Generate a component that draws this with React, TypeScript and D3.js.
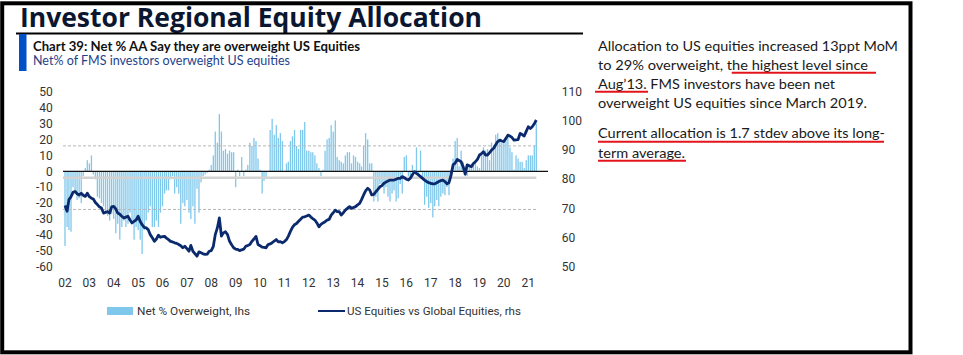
import React from 'react';
import * as d3 from 'd3';

// ---------- DATA ----------
const yearLabels = ['02','03','04','05','06','07','08','09','10','11','12','13','14','15','16','17','18','19','20','21'];
const START_YEAR = 2002;

// Net % of FMS investors overweight US equities (monthly, lhs)
const net2002 = [-47, -35, -37, -38, -10, -14, -18, -17, -20, -3, 2, 7];
const net2003 = [5, 10, -2, -5, -16, -17, -20, -22, -26, -28, -31, -27];
const net2004 = [-30, -39, -33, -43, -35, -31, -35, -33, -26, -31, -43, -35];
const net2005 = [-37, -43, -52, -37, -31, -26, -22, -35, -35, -31, -35, -26];
const net2006 = [-22, -14, -12, -12, -5, -3, -14, -10, -14, -33, -20, -22];
const net2007 = [-18, -26, -30, -22, -33, -11, -26, -7, -3, -2, -1, 1];
const net2008 = [4, 10, 25, 18, 36, 25, 13, 14, 11, 13, 12, 12];
const net2009 = [-10, 1, -3, 9, -3, 1, 4, 18, 16, 21, 19, 8];
const net2010 = [1, -14, -6, -4, 0, 26, 33, 23, 29, 21, 24, 19];
const net2011 = [0, 5, 6, 19, 22, 26, 16, 14, 26, 26, 31, 13];
const net2012 = [13, 12, 12, 10, 5, 2, -3, 1, 13, 20, 21, 29];
const net2013 = [25, 32, 9, 7, 6, 5, 10, 12, 12, 5, 10, 9];
const net2014 = [6, 5, 3, 16, 24, 20, 5, 5, -19, -16, -19, -8];
const net2015 = [-10, -14, -10, -16, -19, -14, -12, -19, -17, -8, -14, 9];
const net2016 = [10, -3, -4, 4, -1, 15, -3, 13, -4, -21, -16, -23];
const net2017 = [-20, -29, -22, -18, -22, -16, -14, -15, -10, -15, -5, 8];
const net2018 = [19, 21, 3, 13, 6, 3, -3, 3, 4, 5, 6, 3];
const net2019 = [2, 10, 15, 13, 14, 7, 18, 14, 23, 24, 20, 18];
const net2020 = [19, 19, 22, 15, 12, 1, 10, 8, 6, 6, 2, 7];
const net2021 = [10, 10, 10, 16, 30];

// US equities vs global equities (monthly, rhs)
const rel2002 = [71, 69, 73, 74, 75.5, 75.8, 75, 74.6, 75.2, 74.5, 74.1, 75.2];
const rel2003 = [74, 73.5, 73.2, 72, 71.3, 70.5, 70.1, 68.4, 68.6, 68.9, 68.4, 70.5];
const rel2004 = [70.7, 69.8, 68.4, 68, 67.3, 66.7, 67, 67.3, 66, 65, 65.6, 66];
const rel2005 = [67.3, 65.5, 64.4, 63.5, 63.3, 62.7, 61, 59.9, 58.7, 59.5, 60.8, 60.1];
const rel2006 = [60.3, 60.4, 59.8, 59.3, 58.7, 58.5, 58.2, 58, 57.6, 57.2, 56.5, 57];
const rel2007 = [56.2, 55.3, 57.3, 55.3, 54.5, 53.6, 55.1, 54.8, 54.4, 54.2, 54.3, 55.3];
const rel2008 = [55.5, 57, 61, 63.3, 66.7, 60.5, 61.6, 62, 61, 58.7, 57.5, 56.5];
const rel2009 = [56, 55.9, 55.5, 55.8, 56, 57, 57.3, 57.6, 58.7, 59.5, 60.4, 57.6];
const rel2010 = [57.2, 56.7, 56.6, 56.5, 57.6, 57.8, 58.2, 58.8, 59.3, 58.5, 58.6, 58.2];
const rel2011 = [58.6, 59.3, 60.5, 62.1, 63.5, 64.4, 64.8, 65.6, 66.3, 67, 67.1, 67.4];
const rel2012 = [67.7, 67, 66.5, 66, 65, 63.7, 64.5, 65, 65.4, 66, 66.2, 67.7];
const rel2013 = [68.5, 69.4, 68.9, 68.9, 67.7, 68.5, 69.4, 70, 70.6, 70, 70.3, 70.6];
const rel2014 = [71.2, 71.7, 73, 74.6, 76, 76.9, 76.3, 74.6, 74.8, 75.7, 76.5, 77.4];
const rel2015 = [77.8, 78.6, 79, 79.4, 79.7, 79.7, 79.7, 80, 80.3, 80.3, 80.9, 80.5];
const rel2016 = [80, 79.7, 80.3, 81.5, 82.6, 82, 81.5, 80.9, 80.3, 79.7, 79.2, 78.8];
const rel2017 = [78.6, 78.4, 78.4, 78.8, 79.2, 79.5, 79.7, 79.2, 78.4, 78.8, 81.4, 84.9];
const rel2018 = [85.5, 86.8, 86.4, 86, 84.3, 81.7, 84.9, 84.6, 84.3, 85.4, 86, 86.8];
const rel2019 = [88.3, 88.8, 89.4, 88.3, 88.3, 89.1, 90, 90.6, 91.8, 92.9, 93.4, 93.1];
const rel2020 = [92.9, 94, 95.1, 94.8, 94.3, 93.4, 93.5, 93.6, 95.7, 95.3, 94.8, 96.4];
const rel2021 = [98, 97.4, 98, 99, 100.3];

const leftTicks = [50, 40, 30, 20, 10, 0, -10, -20, -30, -40, -50, -60];
const rightTicks = [110, 100, 90, 80, 70, 60, 50];
const avgLevel = -4;
const sdLevels = [16, -24];

const netOverweight = [
  ...net2002, ...net2003, ...net2004, ...net2005, ...net2006, ...net2007, ...net2008,
  ...net2009, ...net2010, ...net2011, ...net2012, ...net2013, ...net2014, ...net2015,
  ...net2016, ...net2017, ...net2018, ...net2019, ...net2020, ...net2021,
];
const usVsGlobal = [
  ...rel2002, ...rel2003, ...rel2004, ...rel2005, ...rel2006, ...rel2007, ...rel2008,
  ...rel2009, ...rel2010, ...rel2011, ...rel2012, ...rel2013, ...rel2014, ...rel2015,
  ...rel2016, ...rel2017, ...rel2018, ...rel2019, ...rel2020, ...rel2021,
];

const textLines = [
  'Allocation to US equities increased 13ppt MoM',
  'to 29% overweight, the highest level since',
  'Aug\u201913. FMS investors have been net',
  'overweight US equities since March 2019.',
  'Current allocation is 1.7 stdev above its long-',
  'term average.',
];

export default function App() {
  const x = d3.scaleTime()
    .domain([new Date(START_YEAR, 0, 1), new Date(2021, 0, 1)])
    .range([65, 528.3]);
  const yL = d3.scaleLinear().domain([-60, 50]).range([266.7, 91.8]);
  const yR = d3.scaleLinear().domain([50, 110]).range([266.7, 91.7]);

  const barData = netOverweight.map((v, i) => ({ d: new Date(START_YEAR, i, 1), v }));
  const lineData = usVsGlobal.map((v, i) => ({ d: new Date(START_YEAR, i, 1), v }));
  const lastX = x(barData[barData.length - 1].d);

  const line = d3.line<{ d: Date; v: number }>()
    .x((p) => x(p.d))
    .y((p) => yR(p.v));

  const tickFont = 'Roboto, "Noto Sans", sans-serif';
  const bodyFont = 'Lato, "Open Sans", sans-serif';

  const lineX = 598;
  const lineBase = [51, 70, 89.3, 108.3, 138.3, 157.7];
  const lineW = [300, 270, 237, 269, 287, 87];

  return (
    <div style={{ position: 'absolute', left: 0, top: 0 }}>
      <svg width={963} height={355} style={{ display: 'block', background: '#fff' }}>
        <rect x={0} y={0} width={963} height={355} fill="#fff" />
        {/* frame */}
        <rect x={2.2} y={3.3} width={908.3} height={349} fill="none" stroke="#000" strokeWidth={4} />

        {/* title */}
        <text x={20} y={26.5} fontFamily='"Open Sans", "Noto Sans", sans-serif' fontWeight={700}
          fontSize={26} fill="#0b1630" textLength={462} lengthAdjust="spacingAndGlyphs">
          Investor Regional Equity Allocation
        </text>
        <line x1={16} x2={583} y1={33.5} y2={33.5} stroke="#000" strokeWidth={2.2} />
        <rect x={19} y={34} width={7.5} height={37} fill="#0050c8" />
        <text x={33} y={50.5} fontFamily={bodyFont} fontWeight={700} fontSize={13.5} fill="#111"
          textLength={327} lengthAdjust="spacingAndGlyphs">
          Chart 39: Net % AA Say they are overweight US Equities
        </text>
        <text x={33} y={65} fontFamily={bodyFont} fontSize={13} fill="#1f3f8a"
          textLength={257} lengthAdjust="spacingAndGlyphs">
          Net% of FMS investors overweight US equities
        </text>

        {/* bars */}
        {barData.map((b, i) => (
          <rect key={i} x={x(b.d) - 0.65} width={1.3}
            y={Math.min(yL(b.v), yL(0))} height={Math.abs(yL(b.v) - yL(0))}
            fill="#7fc8ec" />
        ))}

        {/* reference levels */}
        <line x1={63} x2={lastX} y1={yL(avgLevel)} y2={yL(avgLevel)} stroke="#d2d2d2" strokeWidth={2.5} />
        {sdLevels.map((s) => (
          <line key={s} x1={63} x2={lastX} y1={yL(s)} y2={yL(s)} stroke="#b8b8b8"
            strokeWidth={1} strokeDasharray="3,2" />
        ))}
        <line x1={63} x2={548} y1={yL(0)} y2={yL(0)} stroke="#111" strokeWidth={1.3} />

        {/* relative performance line */}
        <path d={line(lineData) || ''} fill="none" stroke="#0b2a6e" strokeWidth={2.8}
          strokeLinejoin="round" />

        {/* left axis */}
        {leftTicks.map((t) => (
          <text key={t} x={52.7} y={yL(t)} dy="0.35em" textAnchor="end" fontFamily={tickFont}
            fontSize={12} fill="#333">{t}</text>
        ))}
        {/* right axis */}
        {rightTicks.map((t) => (
          <text key={t} x={561.7} y={yR(t)} dy="0.35em" textAnchor="start" fontFamily={tickFont}
            fontSize={12} fill="#333">{t}</text>
        ))}
        {/* x axis labels */}
        {yearLabels.map((l, i) => (
          <text key={l} x={x(new Date(START_YEAR + i, 0, 1))} y={286.5} textAnchor="middle"
            fontFamily={tickFont} fontSize={12} fill="#333">{l}</text>
        ))}

        {/* legend */}
        <rect x={107} y={307} width={26} height={8} fill="#7fc8ec" />
        <text x={137} y={315} fontFamily={tickFont} fontSize={11.5} fill="#333"
          textLength={113} lengthAdjust="spacingAndGlyphs">Net % Overweight, lhs</text>
        <line x1={318} x2={345} y1={311} y2={311} stroke="#0b2a6e" strokeWidth={2} />
        <text x={347} y={315} fontFamily={tickFont} fontSize={11.5} fill="#333"
          textLength={174} lengthAdjust="spacingAndGlyphs">US Equities vs Global Equities, rhs</text>

        {/* commentary */}
        {textLines.map((t, i) => (
          <text key={i} x={lineX} y={lineBase[i]} fontFamily={bodyFont} fontSize={13.5} fill="#1a1a1a"
            textLength={lineW[i]} lengthAdjust="spacingAndGlyphs">{t}</text>
        ))}
        <line x1={731.7} x2={876} y1={72.7} y2={72.7} stroke="#e3141b" strokeWidth={2} />
        <line x1={595} x2={648} y1={91.7} y2={91.7} stroke="#e3141b" strokeWidth={2} />
        <line x1={598} x2={884} y1={141.7} y2={141.7} stroke="#e3141b" strokeWidth={2} />
        <line x1={598} x2={686} y1={160.7} y2={160.7} stroke="#e3141b" strokeWidth={2} />
      </svg>
    </div>
  );
}
